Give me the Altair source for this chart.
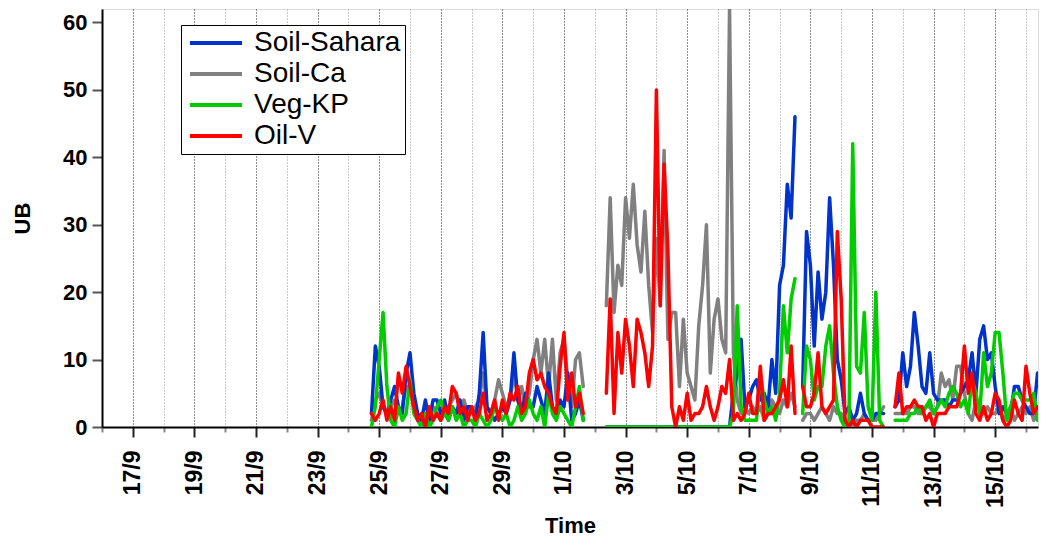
import altair as alt
import pandas as pd
from datetime import datetime, timedelta

# 3-hourly values, starting 24/9 18:00 (UTC); None = missing
soil_sahara = [
    2, 12,                              # 24/9 (18h, 21h)
    9, 3, 2, 4, 6, 3, 2, 8,             # 25/9
    11, 5, 2, 1, 4, 1, 4, 4,            # 26/9
    2, 4, 1, 3, 2, 4, 1, 3,             # 27/9
    3, 1, 5, 14, 3, 2, 1, 2,            # 28/9
    3, 2, 4, 11, 4, 2, 5, 3,            # 29/9
    3, 6, 4, 2, 8, 3, 2, 4,             # 30/9
    3, 8, 1, 2, 4, 1, None, None,       # 1/10
    None, None, None, 0, 0, 0, 0, 0,    # 2/10
    0, 0, 0, 0, 0, 0, 0, 0,             # 3/10
    0, 0, 0, 0, 0, 0, 0, 0,             # 4/10
    0, 0, 0, 0, 0, 0, 0, 0,             # 5/10
    0, 0, 0, 0, 5, 8, 13, 3,            # 6/10
    4, 6, 7, 4, 5, 3, 10, 5,            # 7/10
    21, 24, 36, 31, 46, None, 6, 29,    # 8/10
    24, 12, 23, 16, 20, 34, 24, 10,     # 9/10
    7, 2, 3, 1, 2, 5, 2, 1,             # 10/10
    1, 2, 2, 2, None, None, 3, 4,       # 11/10
    11, 6, 9, 17, 12, 6, 5, 11,         # 12/10
    5, 4, 4, 4, 3, 4, 4, 5,             # 13/10
    6, 7, 11, 5, 13, 15, 10, 11,        # 14/10
    6, 2, 3, 2, 2, 6, 6, 4,             # 15/10
    3, 2, 2, 8, 4, 5,                   # 16/10
]
soil_ca = [
    1, 4,
    5, 3, 2, 3, 4, 2, 3, 6,
    6, 3, 2, 1, 2, 1, 3, 2,
    1, 2, 3, 4, 5, 3, 4, 2,
    2, 3, 4, 8, 3, 2, 4, 7,
    5, 3, 4, 8, 4, 6, 3, 5,
    10, 13, 8, 13, 6, 13, 4, 11,
    13, 7, 3, 10, 11, 6, None, None,
    None, None, None, 18, 34, 17, 24, 21,
    34, 28, 36, 27, 23, 32, 21, 14,
    28, 18, 41, 13, 17, 17, 6, 16,
    8, 6, 4, 15, 21, 30, 8, 16,
    19, 13, 11, 62, 11, 4, 2, 3,
    2, 3, 2, 3, 1, 2, 4, 3,
    2, 4, 3, 5, 3, None, 1, 2,
    2, 1, 2, 3, 2, 1, 3, 2,
    2, 1, 1, 0, 1, 1, 2, 1,
    1, 1, 2, 3, None, None, 2, 2,
    2, 2, 3, 3, 2, 2, 3, 3,
    2, 3, 8, 6, 7, 4, 9, 9,
    5, 2, 1, 4, 3, 2, 3, 2,
    2, 3, 1, 2, 3, 1, 2, 3,
    2, 3, 1, 2, 1, 3,
]
veg_kp = [
    0, 3,
    10, 17, 6, 1, 0, 3, 1, 2,
    7, 2, 1, 0, 2, 0, 1, 3,
    4, 2, 1, 3, 1, 2, 0, 1,
    1, 0, 2, 1, 0, 1, 3, 2,
    1, 2, 0, 1, 3, 1, 2, 4,
    2, 1, 3, 0, 5, 2, 1, 3,
    2, 1, 0, 3, 6, 1, None, None,
    None, None, None, 0, 0, 0, 0, 0,
    0, 0, 0, 0, 0, 0, 0, 0,
    0, 0, 0, 0, 0, 0, 0, 0,
    0, 0, 0, 0, 0, 0, 0, 0,
    0, 0, 0, 0, 2, 18, 3, 1,
    1, 1, 1, 8, 4, 2, 3, 1,
    5, 18, 11, 19, 22, None, 2, 12,
    10, 4, 6, 6, 12, 15, 8, 3,
    1, 0, 0, 42, 9, 8, 17, 3,
    1, 20, 1, 0, None, None, 1, 1,
    1, 1, 2, 2, 3, 2, 3, 4,
    2, 3, 4, 3, 5, 6, 5, 3,
    4, 2, 7, 5, 2, 11, 6, 8,
    14, 14, 8, 1, 3, 5, 5, 4,
    4, 4, 5, 1, 3, 5,
]
oil_v = [
    2, 1,
    2, 4, 1, 3, 1, 8, 5, 9,
    6, 3, 1, 2, 0, 3, 1, 2,
    1, 3, 2, 6, 5, 2, 3, 1,
    3, 1, 2, 5, 1, 2, 4, 1,
    4, 2, 5, 4, 6, 2, 3, 8,
    10, 7, 8, 6, 5, 3, 2, 9,
    14, 4, 8, 3, 5, 2, None, None,
    None, None, None, 5, 19, 2, 14, 8,
    16, 12, 6, 16, 14, 11, 6, 12,
    50, 18, 39, 26, 3, 0, 3, 1,
    5, 1, 2, 2, 3, 6, 3, 1,
    3, 6, 5, 10, 1, 2, 1, 2,
    5, 2, 2, 9, 1, 2, 2, 3,
    4, 7, 3, 12, 2, None, 6, 3,
    3, 5, 11, 3, 2, 3, 4, 29,
    19, 1, 0, 1, 0, 1, 1, 1,
    0, 0, 0, 0, None, None, 3, 8,
    2, 3, 3, 4, 3, 3, 1, 2,
    0, 2, 2, 2, 3, 3, 3, 5,
    12, 5, 8, 2, 1, 3, 1, 2,
    5, 4, 1, 0, 1, 4, 2, 1,
    9, 5, 2, 3, 3, 2,
]

series_names = ["Soil-Sahara", "Soil-Ca", "Veg-KP", "Oil-V"]
series_colors = ["#0033cc", "#808080", "#00cc00", "#ff0000"]
series_values = [soil_sahara, soil_ca, veg_kp, oil_v]

start = datetime(2015, 9, 24, 18)
rows = []
for name, vals in zip(series_names, series_values):
    for i, v in enumerate(vals):
        t = start + timedelta(hours=3 * i)
        rows.append({"time": t.strftime("%Y-%m-%dT%H:%M:%SZ"), "series": name, "value": v})
df = pd.DataFrame(rows)

day_values = []
d = datetime(2015, 9, 16)
while d <= datetime(2015, 10, 16):
    day_values.append(alt.DateTime(year=d.year, month=d.month, date=d.day, utc=True))
    d += timedelta(days=1)

odd = "utcdate(datum.value) % 2 == 1"

x_axis = alt.Axis(
    values=day_values,
    labelExpr=f"{odd} ? utcdate(datum.value) + '/' + (utcmonth(datum.value) + 1) : ''",
    labelAngle=270,
    labelFont="Liberation Sans",
    labelFontSize=23,
    labelFontWeight="bold",
    labelColor="black",
    labelPadding=13,
    labelOverlap=False,
    labelFlush=False,
    grid=True,
    gridDash=[1, 2],
    gridWidth=1,
    gridColor={"condition": {"test": odd, "value": "#222222"}, "value": "#999999"},
    ticks=True,
    tickSize={"condition": {"test": odd, "value": 10}, "value": 5},
    tickColor={"condition": {"test": odd, "value": "#222222"}, "value": "#888888"},
    tickWidth=2,
    domainColor="black",
    domainWidth=2,
    title="Time",
    titleFont="Liberation Sans",
    titleFontSize=22,
    titleFontWeight="bold",
    titleColor="black",
    titlePadding=8,
)

y_axis = alt.Axis(
    values=[0, 10, 20, 30, 40, 50, 60],
    grid=False,
    tickSize=10,
    tickWidth=2,
    tickColor="#555555",
    domainColor="black",
    domainWidth=2,
    labelFont="Liberation Sans",
    labelFontSize=22,
    labelFontWeight="bold",
    labelColor="black",
    labelPadding=5,
    title="UB",
    titleFont="Liberation Sans",
    titleFontSize=22,
    titleFontWeight="bold",
    titleColor="black",
    titlePadding=28,
)

legend = alt.Legend(
    title=None,
    orient="none",
    legendX=79,
    legendY=16,
    direction="vertical",
    labelFont="Liberation Sans",
    labelFontSize=28,
    labelColor="black",
    labelLimit=400,
    labelOffset=24,
    symbolType="M-2.17,0L2.17,0",
    symbolSize=576,
    symbolStrokeWidth=4,
    symbolOffset=17,
    strokeColor="black",
    fillColor="white",
    padding=4,
    rowPadding=3,
)

x_enc = alt.X(
    "time:T",
    scale=alt.Scale(
        type="utc",
        domain=[
            alt.DateTime(year=2015, month=9, date=16, hours=0, utc=True),
            alt.DateTime(year=2015, month=10, date=16, hours=9, minutes=22, utc=True),
        ],
        nice=False,
    ),
    axis=x_axis,
)
y_enc = alt.Y("value:Q", scale=alt.Scale(domain=[0, 62], nice=False), axis=y_axis)
color_enc = alt.Color(
    "series:N",
    scale=alt.Scale(domain=series_names, range=series_colors),
    legend=legend,
)

base = alt.Chart(df)
layers = []
for name in ["Soil-Ca", "Soil-Sahara", "Veg-KP", "Oil-V"]:
    layers.append(
        base.transform_filter(alt.datum.series == name)
        .mark_line(strokeWidth=3.5, strokeJoin="round", strokeCap="round", clip=True,
                   invalid="break-paths-show-domains")
        .encode(x=x_enc, y=y_enc, color=color_enc)
    )

chart = (
    alt.layer(*layers)
    .properties(
        width=936,
        height=418,
        autosize=alt.AutoSizeParams(type="none"),
        padding={"left": 94, "top": 1, "right": 1, "bottom": 111},
    )
    .configure_view(stroke=None)
    .configure(font="Liberation Sans")
)

chart.save("out.html", embed_options={"renderer": "svg", "actions": False})
